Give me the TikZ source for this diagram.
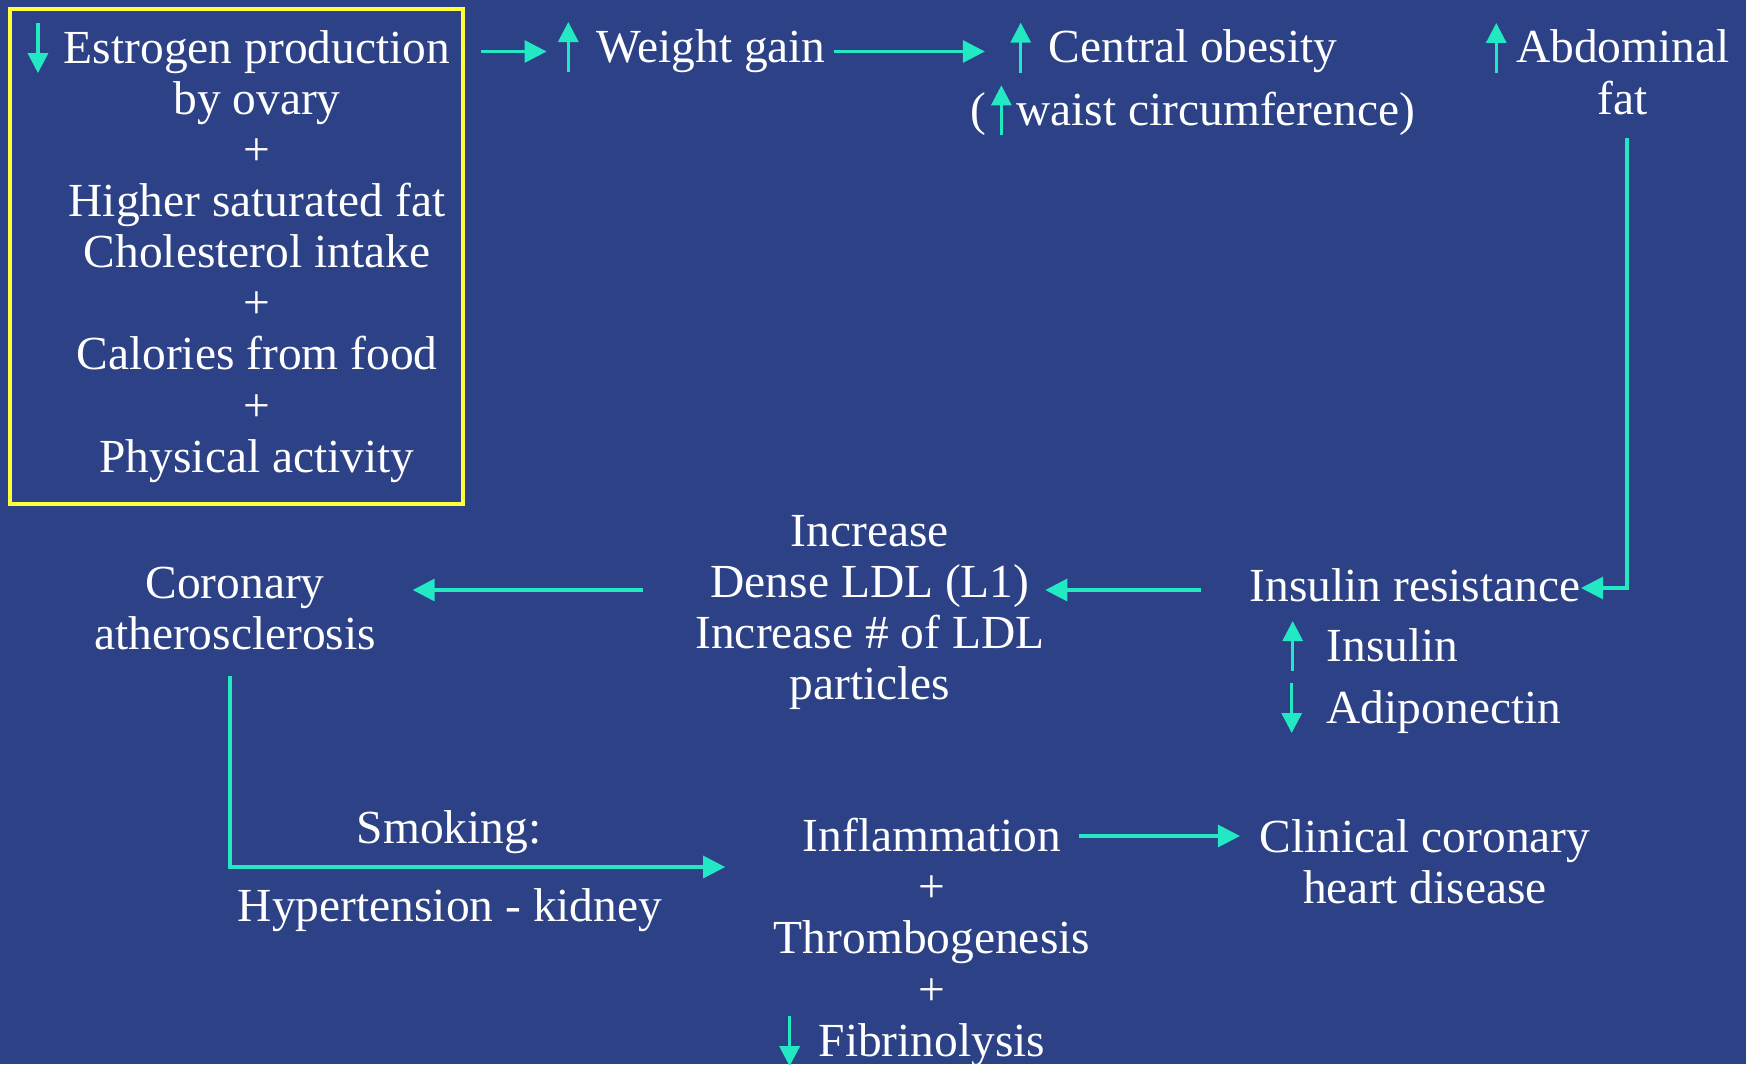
\documentclass[tikz,border=0pt]{standalone}
\usepackage{fontspec}
\setmainfont{Liberation Serif}
\usepackage{xcolor}
\usepackage{tikz}
\usetikzlibrary{positioning, arrows.meta}
\definecolor{slideblue}{HTML}{2C4186}
\definecolor{arrowteal}{HTML}{22E8C4}
\definecolor{frameyellow}{HTML}{FFFF3C}

% small up/down marks set in the text
\newcommand{\upmark}{\tikz[baseline=0pt]\draw[arrowteal, line width=0.9pt,
  -{Triangle[length=0.2cm,width=0.2cm]}] (0,-0.1) -- (0,0.4);}
\newcommand{\dnmark}{\tikz[baseline=0pt]\draw[arrowteal, line width=0.9pt,
  -{Triangle[length=0.2cm,width=0.2cm]}] (0,0.4) -- (0,-0.1);}
\newcommand{\upl}[1][0.18cm]{\llap{\upmark\hspace{#1}}}
\newcommand{\dnl}[1][0.18cm]{\llap{\dnmark\hspace{#1}}}

\tikzset{
  txt/.style={text=white, inner sep=0pt, align=center,
              font=\fontsize{13.5}{14.55}\selectfont},
  flow/.style={draw=arrowteal, line width=0.9pt,
               -{Triangle[length=0.22cm,width=0.22cm]}},
  framebox/.style={draw=frameyellow, line width=1.3pt, inner sep=0pt}
}

\begin{document}
\begin{tikzpicture}
  \useasboundingbox (0,0) rectangle (17.46,10.64);
  \fill[slideblue] (0,0) rectangle (17.46,10.64);

  % causes
  \node[framebox, minimum width=4.53cm, minimum height=4.95cm] (frame) at (2.365,8.075) {};
  \node[txt] (diet) at (2.57,8.12) {\dnl[0.16cm]Estrogen production\\by ovary\\+\\Higher saturated fat\\
    Cholesterol intake\\+\\Calories from food\\+\\Physical activity};

  % top row
  \node[txt] (wgain) at (7.11,10.17) {\upl Weight gain};
  \node[txt] (central) at (11.93,9.85) {\upl Central obesity\\[0.06cm]
    (\hspace{0.05cm}\upmark\hspace{0.05cm}waist circumference)};
  \node[txt] (abdom) at (16.23,9.96) {\upl[0.1cm]Abdominal\\fat};

  % middle row
  \node[txt] (insres) at (14.15,4.79) {Insulin resistance};
  \node[txt, anchor=west] (insulin) at (13.26,4.18) {\upl[0.24cm]Insulin};
  \node[txt, anchor=west] (adipo) at (13.26,3.56) {\dnl[0.25cm]Adiponectin};
  \node[txt] (ldl) at (8.70,4.515) {Increase\\Dense LDL (L1)\\Increase \# of LDL\\particles};
  \node[txt] (coron) at (2.35,4.555) {Coronary\\atherosclerosis};

  % bottom row
  \node[txt] (smoking) at (4.49,2.315) {Smoking:};
  \node[txt] (hypert) at (4.50,1.535) {Hypertension - kidney};
  \node[txt] (inflam) at (9.32,1.21) {Inflammation\\+\\Thrombogenesis\\+\\\dnl[0.19cm]Fibrinolysis};
  \node[txt] (clinical) at (14.25,2.025) {Clinical coronary\\heart disease};

  % connectors
  \draw[flow, shorten <=0.16cm, shorten >=0.49cm] ([yshift=-0.045cm]frame.east |- wgain.west)
    -- ([yshift=-0.045cm]wgain.west);
  \draw[flow] ([xshift=0.08cm,yshift=-0.045cm]wgain.east) -- ([xshift=0.15cm,yshift=-0.045cm]wgain.east -| central.west);
  \draw[flow] ([xshift=0.04cm,yshift=-0.225cm]abdom.south) |- ([yshift=-0.03cm]insres.east);
  \draw[flow] ([xshift=-0.48cm,yshift=-0.05cm]insres.west) -- ([yshift=-0.05cm]insres.west -| ldl.east);
  \draw[flow] ([xshift=-0.52cm,yshift=-0.05cm]insres.west -| ldl.west)
    -- ([xshift=0.36cm,yshift=-0.05cm]insres.west -| coron.east);
  \draw[flow] ([xshift=-0.05cm,yshift=-0.255cm]coron.south) |- ([xshift=-0.48cm,yshift=0.76cm]inflam.west);
  \draw[flow] ([xshift=-0.12cm,yshift=0.255cm]clinical.west -| inflam.east)
    -- ([xshift=-0.19cm,yshift=0.255cm]clinical.west);
\end{tikzpicture}
\end{document}
